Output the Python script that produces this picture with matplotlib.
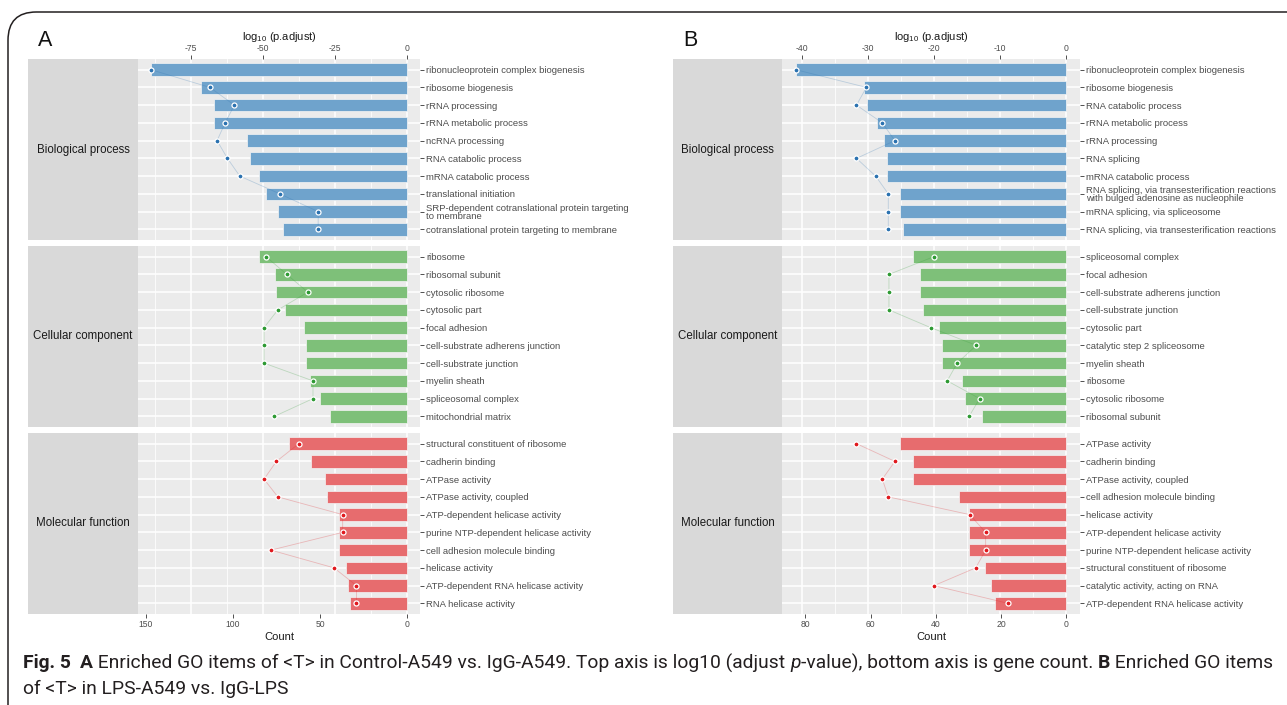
import matplotlib
matplotlib.use("Agg")
import matplotlib.pyplot as plt
from matplotlib.patches import FancyBboxPatch

plt.rcParams['font.family'] = ['Liberation Sans', 'DejaVu Sans']
plt.rcParams['axes.unicode_minus'] = False
plt.rcParams['mathtext.fontset'] = 'custom'
plt.rcParams['mathtext.rm'] = 'Liberation Sans'
plt.rcParams['mathtext.it'] = 'Liberation Sans:italic'
plt.rcParams['mathtext.bf'] = 'Liberation Sans:bold'

W, H = 1287, 705

facets = ['Biological process', 'Cellular component', 'Molecular function']

# ---- panel A: Control-A549 vs IgG-A549
a_bp_terms = ['ribonucleoprotein complex biogenesis', 'ribosome biogenesis', 'rRNA processing',
              'rRNA metabolic process', 'ncRNA processing', 'RNA catabolic process',
              'mRNA catabolic process', 'translational initiation',
              'SRP-dependent cotranslational protein targeting\nto membrane',
              'cotranslational protein targeting to membrane']
a_bp_count = [147, 118, 111, 111, 92, 90, 85, 81, 74, 71]
a_bp_logp = [-89.0, -68.5, -60.0, -63.2, -66.0, -62.4, -58.1, -44.2, -30.9, -30.9]

a_cc_terms = ['ribosome', 'ribosomal subunit', 'cytosolic ribosome', 'cytosolic part',
              'focal adhesion', 'cell-substrate adherens junction', 'cell-substrate junction',
              'myelin sheath', 'spliceosomal complex', 'mitochondrial matrix']
a_cc_count = [85, 76, 75, 70, 59, 58, 58, 56, 50, 44]
a_cc_logp = [-49.0, -41.8, -34.5, -44.9, -49.7, -49.7, -49.7, -32.7, -32.7, -46.1]

a_mf_terms = ['structural constituent of ribosome', 'cadherin binding', 'ATPase activity',
              'ATPase activity, coupled', 'ATP-dependent helicase activity',
              'purine NTP-dependent helicase activity', 'cell adhesion molecule binding',
              'helicase activity', 'ATP-dependent RNA helicase activity', 'RNA helicase activity']
a_mf_count = [68, 55, 47, 46, 39, 39, 39, 35, 34, 33]
a_mf_logp = [-37.6, -45.4, -49.7, -44.9, -22.4, -22.4, -47.3, -25.4, -17.6, -17.6]

# ---- panel B: LPS-A549 vs IgG-LPS
b_bp_terms = ['ribonucleoprotein complex biogenesis', 'ribosome biogenesis', 'RNA catabolic process',
              'rRNA metabolic process', 'rRNA processing', 'RNA splicing', 'mRNA catabolic process',
              'RNA splicing, via transesterification reactions\nwith bulged adenosine as nucleophile',
              'mRNA splicing, via spliceosome', 'RNA splicing, via transesterification reactions']
b_bp_count = [83, 62, 61, 58, 56, 55, 55, 51, 51, 50]
b_bp_logp = [-40.9, -30.2, -31.7, -27.8, -25.9, -31.7, -28.8, -26.9, -26.9, -26.9]

b_cc_terms = ['spliceosomal complex', 'focal adhesion', 'cell-substrate adherens junction',
              'cell-substrate junction', 'cytosolic part', 'catalytic step 2 spliceosome',
              'myelin sheath', 'ribosome', 'cytosolic ribosome', 'ribosomal subunit']
b_cc_count = [47, 45, 45, 44, 39, 38, 38, 32, 31, 26]
b_cc_logp = [-20.0, -26.8, -26.8, -26.8, -20.5, -13.6, -16.5, -18.0, -13.1, -14.7]

b_mf_terms = ['ATPase activity', 'cadherin binding', 'ATPase activity, coupled',
              'cell adhesion molecule binding', 'helicase activity', 'ATP-dependent helicase activity',
              'purine NTP-dependent helicase activity', 'structural constituent of ribosome',
              'catalytic activity, acting on RNA', 'ATP-dependent RNA helicase activity']
b_mf_count = [51, 47, 47, 33, 30, 30, 30, 25, 23, 22]
b_mf_logp = [-31.7, -25.9, -27.8, -26.9, -14.6, -12.2, -12.2, -13.7, -20.0, -8.8]

bar_colors = ['#6FA3CC', '#7EC079', '#E76C6E']
dot_colors = ['#2B72B0', '#2E9A33', '#E0191E']

fig = plt.figure(figsize=(W / 100, H / 100), dpi=100)


def rect(x0, y0, x1, y1):
    return [x0 / W, 1 - y1 / H, (x1 - x0) / W, (y1 - y0) / H]


facet_tops = [59, 246, 433]
facet_h = 181


def draw_panel(letter, sx0, x0, x1, groups, log_major, log_minor, count_ticks):
    all_counts = [c for g in groups for c in g[1]]
    all_logs = [-v for g in groups for v in g[2]]
    M, L = max(all_counts), max(all_logs)
    loglim = (-1.05 * L, 0.05 * L)
    countlim = (1.05 * M, -0.05 * M)

    for i, (terms, counts, logp) in enumerate(groups):
        top = facet_tops[i]
        ys = list(range(len(terms)))

        # strip
        s = fig.add_axes(rect(sx0, top, x0, top + facet_h))
        s.set_facecolor('#D9D9D9')
        s.set_xticks([]); s.set_yticks([])
        for sp in s.spines.values():
            sp.set_visible(False)
        s.text(0.5, 0.5, facets[i], ha='center', va='center', fontsize=8.3,
               color='#1A1A1A', transform=s.transAxes)

        ax = fig.add_axes(rect(x0, top, x1, top + facet_h))
        axc = ax.twiny()
        axp = ax.twiny()

        ax.set_facecolor('#EBEBEB')
        ax.set_xlim(loglim)
        ax.set_xticks(log_major)
        ax.set_xticks(log_minor, minor=True)
        ax.grid(True, which='major', color='white', lw=1.1)
        ax.grid(True, which='minor', axis='x', color='white', lw=0.55)
        ax.set_axisbelow(True)
        ax.set_yticks(ys)
        ax.set_yticklabels(terms, fontsize=6.8, color='#4D4D4D', linespacing=0.9)
        ax.set_ylim(len(terms) - 0.4, -0.6)
        ax.yaxis.tick_right()
        ax.tick_params(axis='y', length=3, width=0.6, color='#333333', pad=1.5)
        ax.xaxis.tick_top()
        ax.tick_params(axis='x', which='major', length=3, width=0.6, color='#333333',
                       labelsize=6.2, labelcolor='#4D4D4D', pad=1.5)
        ax.tick_params(axis='x', which='minor', length=0)
        if i != 0:
            ax.tick_params(axis='x', which='major', top=False, labeltop=False)
        else:
            ax.set_xlabel('log$_{10}$ (p.adjust)', fontsize=8, color='#1A1A1A', labelpad=3)
            ax.xaxis.set_label_position('top')

        axc.set_xlim(countlim)
        axc.barh(ys, counts, height=0.7, color=bar_colors[i],
                 edgecolor='#F4F4F4', linewidth=0.5, zorder=2)
        axc.xaxis.set_ticks_position('bottom')
        axc.xaxis.set_label_position('bottom')
        axc.set_xticks(count_ticks)
        axc.tick_params(axis='x', length=3, width=0.6, color='#333333',
                        labelsize=6.2, labelcolor='#4D4D4D', pad=1.5)
        if i != 2:
            axc.tick_params(axis='x', bottom=False, labelbottom=False)
        else:
            axc.set_xlabel('Count', fontsize=8, color='#1A1A1A', labelpad=2)

        axp.set_xlim(loglim)
        axp.plot(logp, ys, color=dot_colors[i], alpha=0.25, lw=0.6, zorder=3)
        axp.plot(logp, ys, 'o', ms=3.6, mfc=dot_colors[i], mec='white', mew=0.9, zorder=4)
        axp.set_xticks([])

        for a in (ax, axc, axp):
            for sp in a.spines.values():
                sp.set_visible(False)

    fig.text((sx0 + 10) / W, 1 - 40 / H, letter, fontsize=15.5, ha='left', va='center', color='#111111')


draw_panel('A', 28, 138, 420,
           [(a_bp_terms, a_bp_count, a_bp_logp),
            (a_cc_terms, a_cc_count, a_cc_logp),
            (a_mf_terms, a_mf_count, a_mf_logp)],
           [-75, -50, -25, 0], [-87.5, -62.5, -37.5, -12.5], [0, 50, 100, 150])

draw_panel('B', 673, 782, 1080,
           [(b_bp_terms, b_bp_count, b_bp_logp),
            (b_cc_terms, b_cc_count, b_cc_logp),
            (b_mf_terms, b_mf_count, b_mf_logp)],
           [-40, -30, -20, -10, 0], [-35, -25, -15, -5], [0, 20, 40, 60, 80])

# rounded frame around figure + caption
frame = FancyBboxPatch((8 / W, -0.2), 1.2, 1 - 12 / H + 0.2,
                       boxstyle='round,pad=0,rounding_size=0.022',
                       transform=fig.transFigure, fill=False,
                       edgecolor='#231F20', linewidth=1.1, mutation_aspect=W / H)
fig.patches.append(frame)

caption1 = [('Fig. 5', 'bold', 'normal'), ('  ', 'normal', 'normal'), ('A', 'bold', 'normal'),
            (' Enriched GO items of <T> in Control-A549 vs. IgG-A549. Top axis is log10 (adjust ',
             'normal', 'normal'),
            ('p', 'normal', 'italic'), ('-value), bottom axis is gene count. ', 'normal', 'normal'),
            ('B', 'bold', 'normal'), (' Enriched GO items', 'normal', 'normal')]
caption2 = [('of <T> in LPS-A549 vs. IgG-LPS', 'normal', 'normal')]

renderer = fig.canvas.get_renderer()


def put_line(pieces, x, y, size):
    for txt, wt, st in pieces:
        t = fig.text(x / W, 1 - y / H, txt, fontsize=size, fontweight=wt, fontstyle=st,
                     family=['Roboto', 'DejaVu Sans'], color='#231F20', va='center', ha='left')
        bb = t.get_window_extent(renderer)
        x += bb.width


put_line(caption1, 23, 663, 13.85)
put_line(caption2, 23, 689, 13.85)

fig.savefig('out.png', dpi=100)
